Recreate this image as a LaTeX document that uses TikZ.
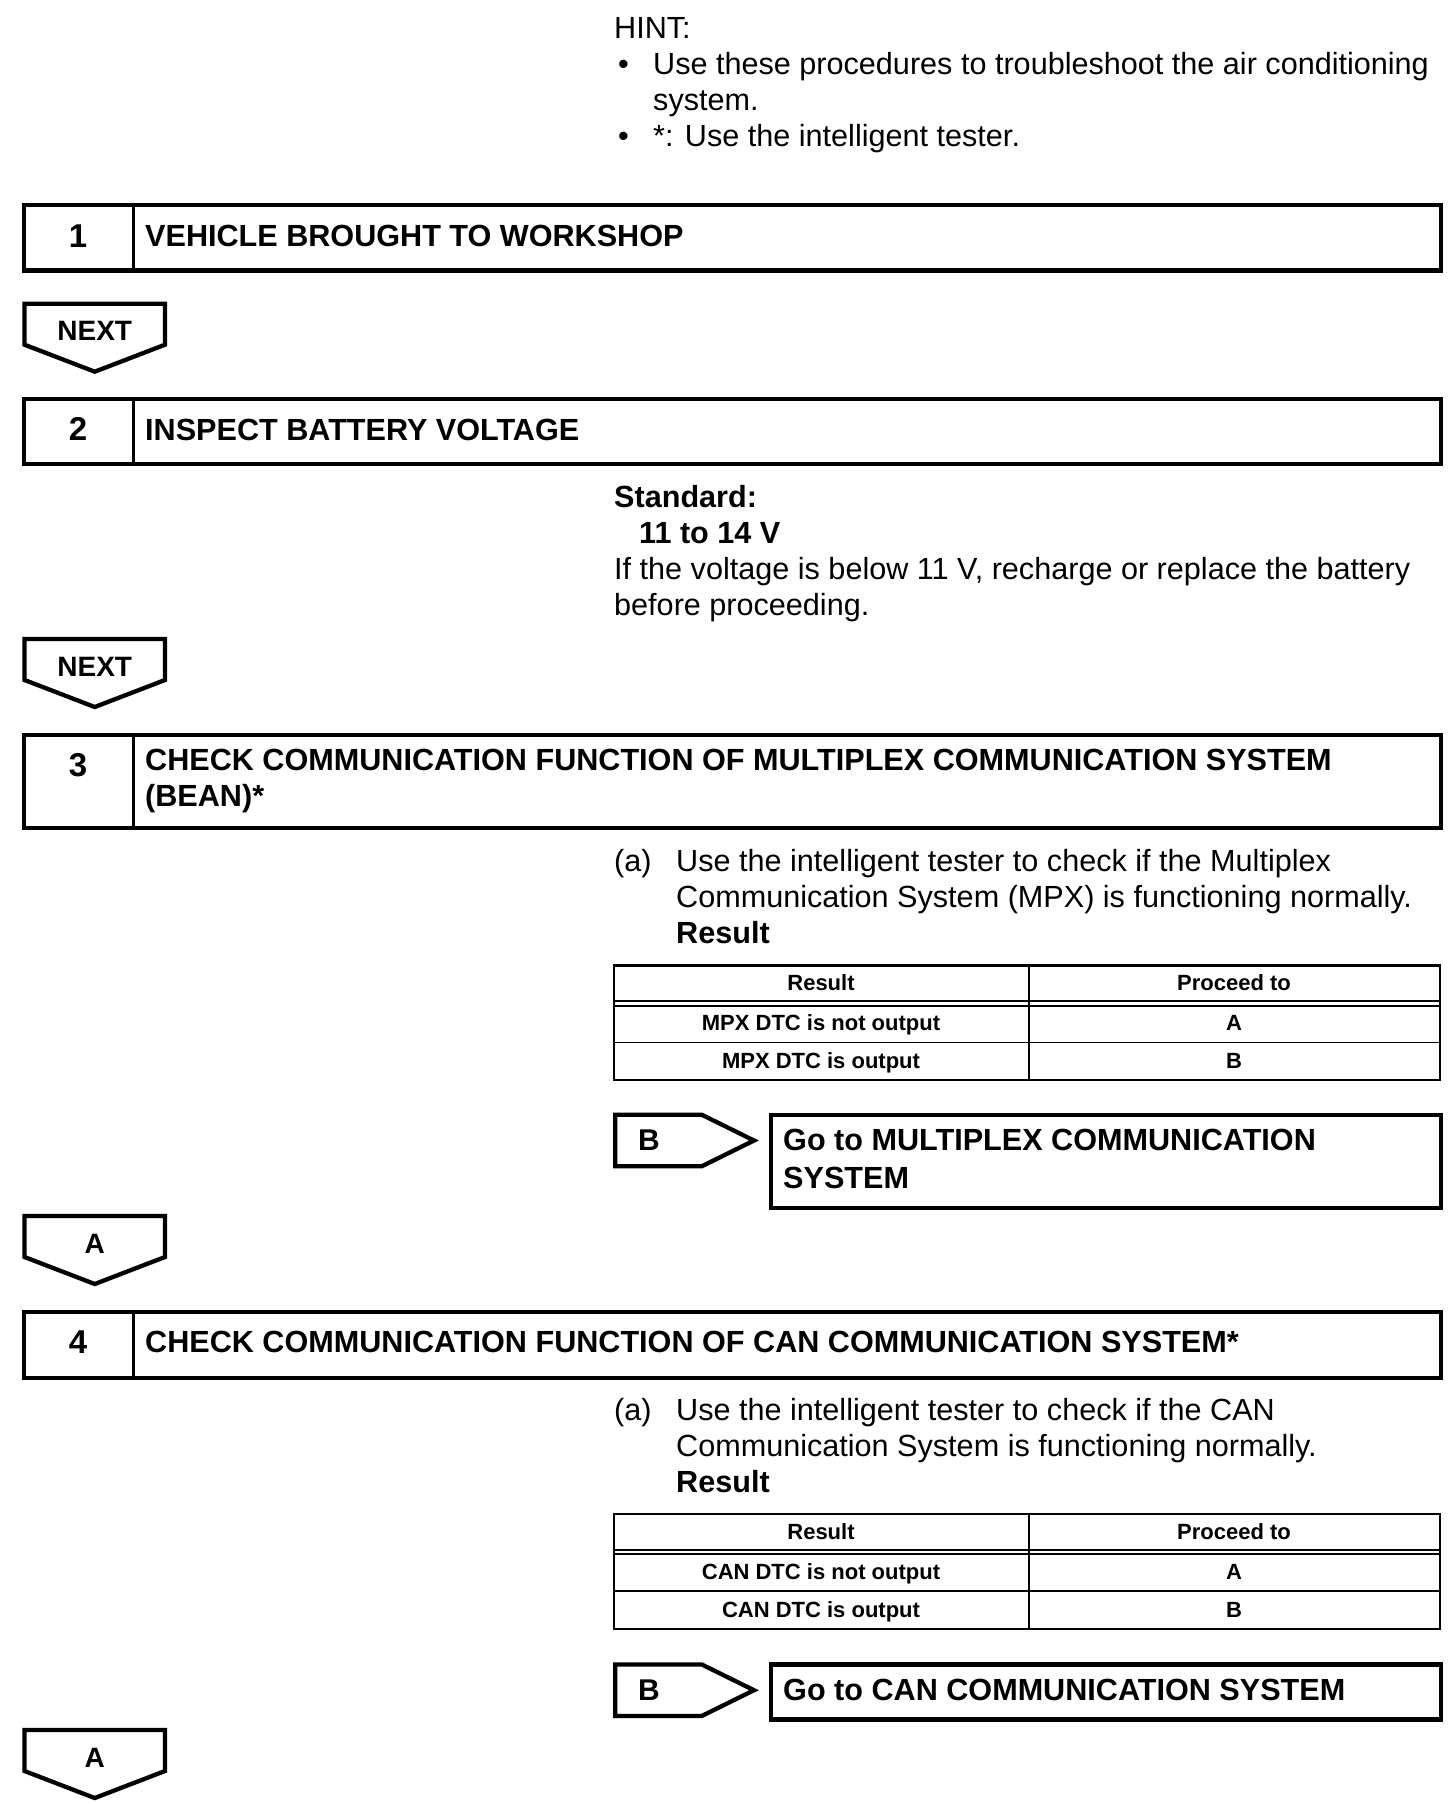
\documentclass[tikz,border=0pt]{standalone}
\usepackage{fontspec}
\setmainfont{Liberation Sans}
\tikzset{
  frame/.style={line width=4.3pt, line join=miter},
  divline/.style={line width=3.3pt},
  tline/.style={line width=2.4pt},
  txt/.style={anchor=base west, inner sep=0pt, font=\fontsize{30.6}{36}\selectfont},
  btxt/.style={anchor=base west, inner sep=0pt, font=\fontsize{30.6}{36}\selectfont\bfseries},
  num/.style={anchor=base, inner sep=0pt, font=\fontsize{33}{40}\selectfont\bfseries},
  tagtxt/.style={anchor=base, inner sep=0pt, font=\fontsize{28}{34}\selectfont\bfseries},
  tbl/.style={anchor=base, inner sep=0pt, font=\fontsize{22}{26}\selectfont\bfseries}
}
% step frame: top, bottom
\newcommand\stepframe[2]{%
  \draw[frame] (24,#1) rectangle (1441,#2);
  \draw[divline] (133.3,#1) -- (133.3,#2);}
% down tag: name, top, text
\newcommand\downtag[3]{%
  \draw[frame] (24.5,#2) -- (165,#2) -- (165,#2+41) -- (94.75,#2+68) -- (24.5,#2+41) -- cycle;
  \node[tagtxt] (#1) at (94.75,#2+37) {#3};}
% right tag: name, top
\newcommand\righttag[2]{%
  \draw[frame] (615.3,#2) -- (701.7,#2) -- (754,#2+25.8) -- (701.7,#2+51.6) -- (615.3,#2+51.6) -- cycle;
  \node[tagtxt, font=\fontsize{30}{36}\selectfont\bfseries] (#1) at (649,#2+36) {B};}
% result table: prefix, top, row1 text, row2 text
\newcommand\restable[4]{%
  \draw[tline] (613.8,#2) rectangle (1440,#2+114.5);
  \draw[tline] (1028.7,#2) -- (1028.7,#2+114.5);
  \draw[line width=2pt] (613.8,#2+35.5) -- (1440,#2+35.5);
  \draw[line width=2pt] (613.8,#2+40) -- (1440,#2+40);
  \draw[line width=1.8pt] (613.8,#2+77) -- (1440,#2+77);
  \node[tbl] (#1h1) at (821,#2+25.1) {Result};
  \node[tbl] (#1h2) at (1234,#2+25.1) {Proceed to};
  \node[tbl] (#1r1) at (821,#2+65.1) {#3};
  \node[tbl] (#1a) at (1234,#2+65.1) {A};
  \node[tbl] (#1r2) at (821,#2+103.1) {#4};
  \node[tbl] (#1b) at (1234,#2+103.1) {B};}
\begin{document}
\begin{tikzpicture}[x=1pt,y=-1pt]
\useasboundingbox (0,0) rectangle (1456,1804);
\fill[white] (0,0) rectangle (1456,1804);

% HINT
\node[txt] (hint) at (614,38) {HINT:};
\node[txt] (hb1) at (618,74) {•};
\node[txt] (h1) at (653,74) {Use these procedures to troubleshoot the air conditioning};
\node[txt] (h2) at (653,110) {system.};
\node[txt] (hb2) at (618,146) {•};
\node[txt] (h3) at (653,146) {*: Use the intelligent tester.};

% Step 1
\stepframe{205}{270.5}
\node[num] (n1) at (78,247) {1};
\node[btxt] (t1) at (145,246) {VEHICLE BROUGHT TO WORKSHOP};

\downtag{next1}{303.7}{NEXT}

% Step 2
\stepframe{399}{464}
\node[num] (n2) at (78,440.5) {2};
\node[btxt] (t2) at (145,440) {INSPECT BATTERY VOLTAGE};

\node[btxt] (std) at (614,507.5) {Standard:};
\node[btxt] (stdv) at (639,543.5) {11 to 14 V};
\node[txt] (s1) at (614,579.5) {If the voltage is below 11 V, recharge or replace the battery};
\node[txt] (s2) at (614,615.5) {before proceeding.};

\downtag{next2}{639}{NEXT}

% Step 3
\stepframe{735}{828}
\node[num] (n3) at (78,776) {3};
\node[btxt] (t3a) at (145,770.5) {CHECK COMMUNICATION FUNCTION OF MULTIPLEX COMMUNICATION SYSTEM};
\node[btxt] (t3b) at (145,806.5) {(BEAN)*};

\node[txt] (a3) at (614,871) {(a)};
\node[txt] (a3l1) at (676,871) {Use the intelligent tester to check if the Multiplex};
\node[txt] (a3l2) at (676,907) {Communication System (MPX) is functioning normally.};
\node[btxt] (a3r) at (676,943) {Result};

\restable{ta}{965.5}{MPX DTC is not output}{MPX DTC is output}

\righttag{bt1}{1114.7}
\draw[frame] (771.3,1114.7) rectangle (1441,1208);
\node[btxt] (g1a) at (783,1150.7) {Go to MULTIPLEX COMMUNICATION};
\node[btxt] (g1b) at (783,1188.5) {SYSTEM};

\downtag{a1}{1216}{A}

% Step 4
\stepframe{1312}{1378}
\node[num] (n4) at (78,1353) {4};
\node[btxt] (t4) at (145,1352) {CHECK COMMUNICATION FUNCTION OF CAN COMMUNICATION SYSTEM*};

\node[txt] (a4) at (614,1420.5) {(a)};
\node[txt] (a4l1) at (676,1420.5) {Use the intelligent tester to check if the CAN};
\node[txt] (a4l2) at (676,1456.5) {Communication System is functioning normally.};
\node[btxt] (a4r) at (676,1492.5) {Result};

\restable{tb}{1514.2}{CAN DTC is not output}{CAN DTC is output}

\righttag{bt2}{1664.4}
\draw[frame] (771.3,1664.4) rectangle (1441,1719.5);
\node[btxt] (g2) at (783,1700) {Go to CAN COMMUNICATION SYSTEM};

\downtag{a2}{1730}{A}
\end{tikzpicture}
\end{document}
